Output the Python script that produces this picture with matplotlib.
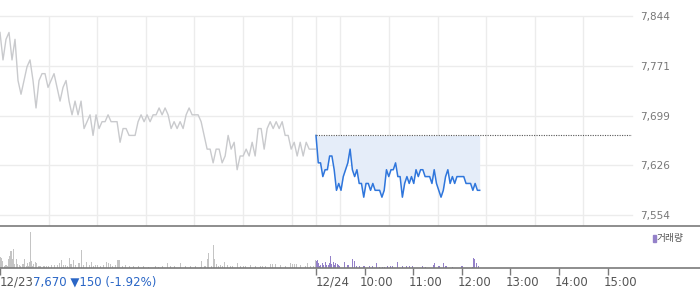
"""Two-day intraday price chart with volume panel (12/23 grey, 12/24 blue)."""

import matplotlib
matplotlib.use("Agg")
import matplotlib.pyplot as plt
import matplotlib.transforms as mtransforms
from matplotlib.patches import Rectangle
import numpy as np

# ── data ─────────────────────────────────────────────────────────────────────
SESSION_MIN = 390          # 09:00 - 15:30

# previous day (12/23), roughly every 3.7 minutes through the session
prev_price = [
    7820, 7780, 7810, 7820, 7780, 7810, 7750, 7730, 7750, 7770,
    7780, 7750, 7710, 7750, 7760, 7760, 7740, 7750, 7760, 7740,
    7720, 7740, 7750, 7720, 7700, 7720, 7700, 7720, 7680, 7690,
    7700, 7670, 7700, 7680, 7690, 7690, 7700, 7690, 7690, 7690,
    7660, 7680, 7680, 7670, 7670, 7670, 7690, 7700, 7690, 7700,
    7690, 7700, 7700, 7710, 7700, 7710, 7700, 7680, 7690, 7680,
    7690, 7680, 7700, 7710, 7700, 7700, 7700, 7690, 7670, 7650,
    7650, 7630, 7650, 7650, 7630, 7640, 7670, 7650, 7660, 7620,
    7640, 7640, 7650, 7640, 7660, 7640, 7680, 7680, 7650, 7680,
    7690, 7680, 7690, 7680, 7690, 7670, 7670, 7650, 7660, 7640,
    7660, 7640, 7660, 7650, 7650, 7650,
]

# today (12/24), 09:00 to about 12:22
today_last_min = 202
today_price = [
    7670, 7630, 7630, 7610, 7620, 7620, 7640, 7640, 7620, 7590,
    7600, 7590, 7610, 7620, 7630, 7650, 7620, 7610, 7620, 7600,
    7600, 7580, 7600, 7600, 7590, 7600, 7590, 7590, 7590, 7580,
    7590, 7620, 7610, 7620, 7620, 7630, 7610, 7610, 7580, 7600,
    7610, 7600, 7610, 7600, 7620, 7610, 7620, 7620, 7610, 7610,
    7610, 7600, 7620, 7600, 7590, 7580, 7590, 7610, 7620, 7600,
    7610, 7600, 7610, 7610, 7610, 7610, 7600, 7600, 7600, 7590,
    7600, 7590, 7590,
]
ref_price = 7670

# volume bars: minute of session, volume
prev_vol_min = [
    0, 1, 2, 5, 6, 7, 9, 10, 11, 12, 14, 15, 16, 17, 20, 21, 23, 25, 27, 28,
    30, 32, 33, 35, 36, 37, 38, 39, 41, 43, 44, 47, 48, 49, 53, 54, 57, 59, 63, 67,
    70, 73, 75, 78, 80, 83, 85, 86, 88, 90, 93, 96, 97, 100, 102, 106, 110, 112, 115, 117,
    120, 123, 127, 131, 133, 136, 138, 142, 144, 146, 147, 151, 154, 159, 164, 170, 176, 183, 191, 195,
    200, 206, 210, 215, 222, 228, 234, 241, 247, 248, 252, 253, 255, 257, 260, 263, 264, 267, 269, 271,
    274, 276, 280, 284, 286, 292, 296, 300, 302, 309, 315, 321, 323, 327, 333, 336, 339, 346, 352, 358,
    360, 363, 365, 370, 376, 379, 383, 386, 389,
]
prev_vol = [
    11, 10, 7, 2, 3, 3, 2, 9, 12, 17, 17, 9, 19, 4, 9, 4, 3, 2, 4, 4,
    9, 2, 5, 2, 6, 36, 7, 2, 4, 6, 5, 2, 2, 2, 2, 2, 2, 2, 3, 3,
    3, 5, 8, 3, 3, 2, 10, 4, 4, 8, 3, 5, 5, 18, 3, 6, 3, 6, 2, 3,
    3, 2, 3, 6, 5, 4, 2, 3, 8, 8, 8, 2, 3, 2, 2, 2, 2, 1, 2, 1,
    2, 5, 2, 2, 5, 2, 2, 2, 1, 7, 2, 2, 9, 15, 2, 23, 9, 4, 2, 3,
    2, 6, 3, 2, 2, 5, 2, 2, 2, 3, 2, 2, 2, 2, 4, 4, 4, 3, 2, 5,
    4, 4, 4, 3, 2, 5, 2, 2, 8,
]
today_vol_min = [
    0, 1, 2, 4, 5, 7, 9, 11, 12, 15, 16, 17, 19, 21, 22, 23, 26, 27, 28, 35,
    38, 39, 44, 47, 49, 53, 58, 59, 65, 69, 74, 78, 81, 84, 88, 91, 94, 100, 106, 111,
    115, 118, 131, 135, 144, 146, 151, 152, 157, 159, 160, 168, 179, 180, 193, 194, 195, 197, 200,
]
today_vol = [
    7, 8, 5, 2, 3, 5, 3, 6, 3, 3, 5, 12, 4, 6, 3, 5, 4, 3, 2, 6,
    3, 3, 9, 7, 2, 2, 2, 2, 2, 2, 5, 1, 1, 1, 2, 2, 2, 6, 2, 2,
    2, 2, 2, 1, 3, 5, 2, 2, 5, 2, 2, 1, 2, 2, 1, 10, 9, 5, 2,
]

y_ticks = [7554, 7626.5, 7699, 7771.5, 7844]
y_ticklabels = ["7,554", "7,626", "7,699", "7,771", "7,844"]
x_tick_min = [0, 390, 450, 510, 570, 630, 690, 750]
x_ticklabels = ["12/23", "12/24", "10:00", "11:00", "12:00", "13:00", "14:00", "15:00"]
quote_text = "7,670 \u25bc150 (-1.92%)"

# ── style ────────────────────────────────────────────────────────────────────
GRID = "#ececec"
GREY_LINE = "#c9cacd"
BLUE = "#2f76dc"
FILL = "#e5edf9"
AXIS = "#7a7a7a"
PURPLE = "#9481c9"
TEXT = "#555555"

W, H = 700, 289
fig = plt.figure(figsize=(W / 100, H / 100), dpi=100)
fig.patch.set_facecolor("white")

def fx(px):
    return px / W

def fy(px):
    return 1 - px / H

total_min = 2 * SESSION_MIN
plot_w = 632

# ── price panel ──────────────────────────────────────────────────────────────
ax = fig.add_axes([0, fy(226), fx(plot_w), (226 - 16) / H])
ax.set_xlim(0, total_min)
ax.set_ylim(7538, 7844)
for s in ax.spines.values():
    s.set_visible(False)

for yv in y_ticks:
    ax.axhline(yv, color=GRID, lw=1, zorder=0, clip_on=False)
grid_x = list(range(60, total_min, 60)) + [SESSION_MIN]
for xv in grid_x:
    ax.axvline(xv, color=GRID, lw=1, zorder=0)

prev_x = np.linspace(0, SESSION_MIN - 1, len(prev_price))
today_x = SESSION_MIN + np.linspace(0, today_last_min, len(today_price))

ax.plot(prev_x, prev_price, color=GREY_LINE, lw=1.0, zorder=2)
ax.fill_between(today_x, today_price, ref_price, color=FILL, lw=0, zorder=1)
ax.plot(today_x, today_price, color=BLUE, lw=1.1, zorder=3)
ax.plot([SESSION_MIN, total_min], [ref_price, ref_price], color="#555555",
        lw=0.8, ls=(0, (1, 1.2)), zorder=3)

ax.set_xticks([])
ax.set_yticks(y_ticks)
ax.set_yticklabels(y_ticklabels)
ax.yaxis.tick_right()
ax.tick_params(axis="y", length=0, pad=6, labelsize=7.5, labelcolor="#777777")

# ── volume panel ─────────────────────────────────────────────────────────────
vax = fig.add_axes([0, fy(268), 1, (268 - 226) / H])
vax.set_xlim(0, total_min * W / plot_w)
vax.set_ylim(0, 42)
for side in ("left", "right"):
    vax.spines[side].set_visible(False)
for side in ("top", "bottom"):
    vax.spines[side].set_color(AXIS)
    vax.spines[side].set_linewidth(1.2)

vax.bar(prev_vol_min, prev_vol, width=1.3, color="#c4c4c4", lw=0,
        align="edge", antialiased=False)
vax.bar(np.array(today_vol_min) + SESSION_MIN, today_vol, width=1.3,
        color=PURPLE, lw=0, align="edge", antialiased=False)

vax.set_yticks([])
vax.set_xticks(x_tick_min)
vax.set_xticklabels([])
vax.tick_params(axis="x", length=5, width=1, color=AXIS, direction="out")

label_tr = mtransforms.blended_transform_factory(vax.transData, vax.transAxes)
for m, lab in zip(x_tick_min, x_ticklabels):
    shift = 0 if "/" in lab else -4.5
    tr = mtransforms.offset_copy(label_tr, fig=fig, x=shift, y=0, units="dots")
    vax.text(m, -0.345, lab, transform=tr, ha="left", va="center",
             fontsize=8.5, color=TEXT)

fig.text(fx(33), fy(282.5), quote_text, ha="left", va="center",
         fontsize=8.5, color="#2a66c6")

# volume legend
fig.patches.append(Rectangle((fx(652.5), fy(242)), fx(3), 7 / H,
                             transform=fig.transFigure, color=PURPLE))
fig.text(fx(657), fy(238.5), "거래량", ha="left", va="center", fontsize=7,
         color=TEXT, family=["Noto Sans CJK KR", "DejaVu Sans"])

fig.savefig("out.png", dpi=100, facecolor="white")
